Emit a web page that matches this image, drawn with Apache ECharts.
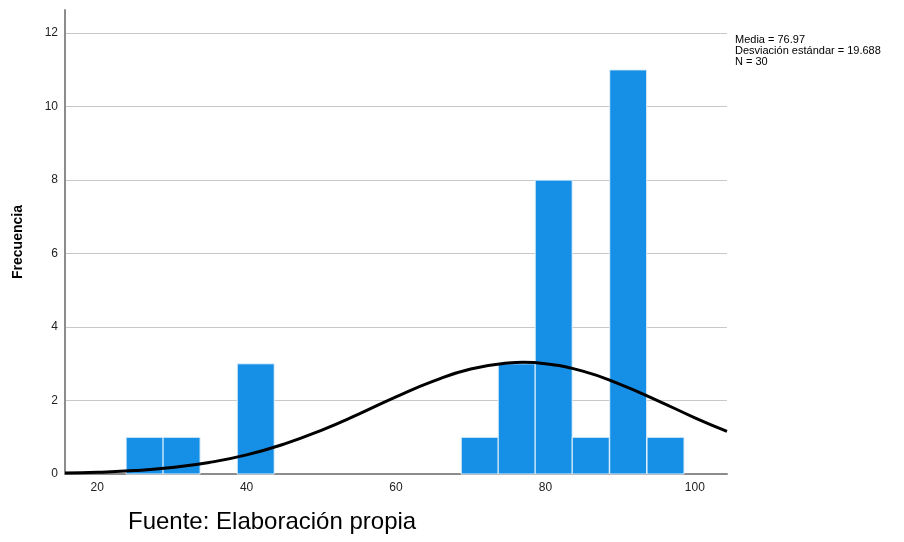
<!DOCTYPE html>
<html><head><meta charset="utf-8">
<script src="https://cdn.jsdelivr.net/npm/echarts@6/dist/echarts.min.js"></script>
<style>html,body{margin:0;padding:0;background:#fff}#c{width:904px;height:542px}</style>
</head><body><div id="c"></div>
<script>
// Histogram bins (left edge, count)
const binStarts = [23.88, 28.83, 38.75, 68.73, 73.68, 78.63, 83.59, 88.6, 93.6];
const binCounts = [1, 1, 3, 1, 3, 8, 1, 11, 1];
const binWidth = 4.95;
// Normal curve points
const curveX = [15.7, 20, 25, 30, 35, 40, 45, 50, 55, 60, 65, 70, 75, 77, 80, 85, 90, 95, 100, 104.3];
const curveY = [0.025, 0.046, 0.093, 0.177, 0.313, 0.521, 0.814, 1.19, 1.63, 2.10, 2.53, 2.86, 3.02, 3.04, 3.00, 2.80, 2.44, 2.00, 1.53, 1.16];
const xTicks = [20, 40, 60, 80, 100];
const statsLines = ['Media = 76.97', 'Desviación estándar = 19.688', 'N = 30'];
const yName = 'Frecuencia';
const footnote = 'Fuente: Elaboración propia';

const chart = echarts.init(document.getElementById('c'), null, {renderer: 'canvas'});
const font = 'Liberation Sans, Arial, sans-serif';
chart.setOption({
  animation: false,
  grid: {left: 65, right: 177, top: 10, bottom: 68, containLabel: false},
  xAxis: {
    type: 'value', min: 15.7, max: 104.3,
    axisLine: {show: true, lineStyle: {color: '#8c8c8c', width: 2}},
    axisTick: {show: false},
    splitLine: {show: false},
    axisLabel: {customValues: xTicks, color: '#222', fontSize: 12, fontFamily: font, margin: 8}
  },
  yAxis: {
    type: 'value', min: 0, max: 12.63, interval: 2,
    name: yName, nameLocation: 'middle', nameGap: 40, nameRotate: 90,
    nameTextStyle: {fontSize: 14, fontWeight: 'bold', color: '#000', fontFamily: font},
    axisLine: {show: true, lineStyle: {color: '#8c8c8c', width: 2}},
    axisTick: {show: false},
    splitLine: {show: true, showMaxLine: false, showMinLine: false, lineStyle: {color: '#c8c8c8', width: 1}},
    axisLabel: {color: '#222', fontSize: 12, fontFamily: font, margin: 7, showMaxLabel: false}
  },
  series: [
    {
      type: 'custom',
      data: binStarts.map((s, i) => [s, s + binWidth, binCounts[i]]),
      renderItem: function (params, api) {
        const p0 = api.coord([api.value(0), 0]);
        const p1 = api.coord([api.value(1), api.value(2)]);
        return {
          type: 'rect',
          shape: {x: p0[0], y: p1[1], width: p1[0] - p0[0], height: p0[1] - p1[1]},
          style: {fill: '#1590e6', stroke: '#e6f2fb', lineWidth: 1}
        };
      },
      z: 2
    },
    {
      type: 'line', smooth: true, showSymbol: false,
      data: curveX.map((x, i) => [x, curveY[i]]),
      lineStyle: {color: '#000', width: 3},
      z: 3
    }
  ],
  graphic: [
    {type: 'text', left: 735, top: 34, style: {text: statsLines.join('\n'), fontSize: 11, lineHeight: 11, fill: '#000', fontFamily: font}},
    {type: 'text', left: 128, top: 510, style: {text: footnote, fontSize: 24, fill: '#000', fontFamily: font}}
  ]
});
</script></body></html>
